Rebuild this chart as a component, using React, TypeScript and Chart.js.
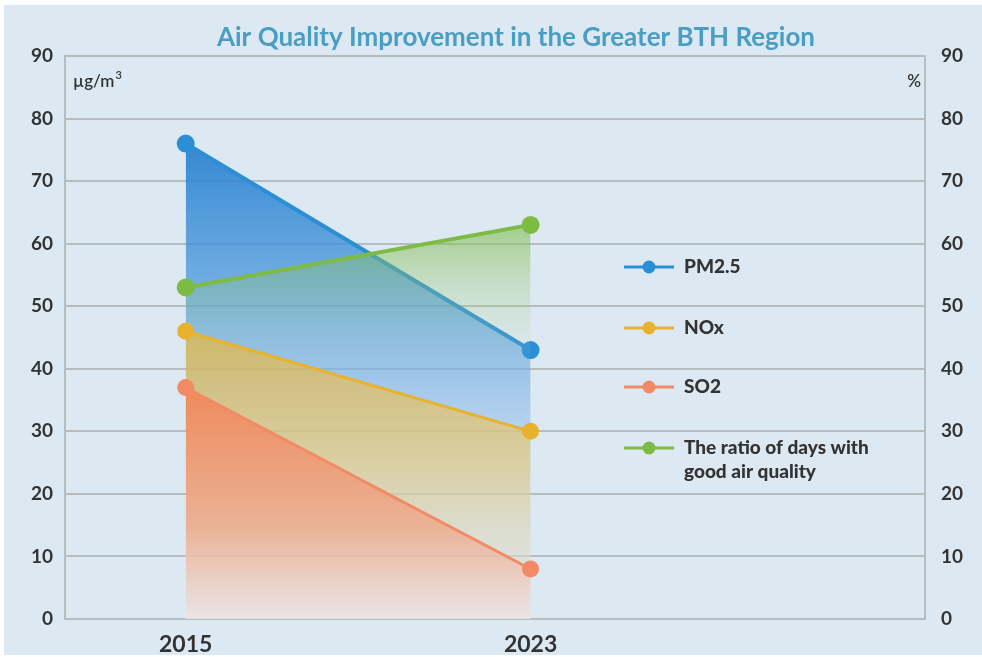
import React, { useEffect, useRef } from "react";
import { Chart, registerables } from "chart.js";

Chart.register(...registerables);

const years = [2015, 2023];
const pm25 = [76, 43];
const nox = [46, 30];
const so2 = [37, 8];
const goodDays = [53, 63];
const yTicks = [0, 10, 20, 30, 40, 50, 60, 70, 80, 90];
const seriesNames = ["PM2.5", "NOx", "SO2", "The ratio of days with\ngood air quality"];
const titleText = "Air Quality Improvement in the Greater BTH Region";

const C_BLUE = "#2b8fd6";
const C_GOLD = "#e9b22e";
const C_ORANGE = "#f28a66";
const C_GREEN = "#7dbb45";
const FONT = "Lato, 'Open Sans', sans-serif";

function grad(stops: [number, string][], vTop: number) {
  return (ctx: any) => {
    const chart = ctx.chart;
    const area = chart.chartArea;
    const ys = chart.scales.y;
    if (!area || !ys) return stops[0][1];
    const top = ys.getPixelForValue(vTop);
    const bottom = ys.getPixelForValue(0);
    const g = chart.ctx.createLinearGradient(0, top, 0, bottom);
    stops.forEach(([o, c]) => g.addColorStop(o, c));
    return g;
  };
}

const bgPlugin = {
  id: "bgPlugin",
  beforeDraw(chart: any) {
    const c = chart.ctx;
    c.save();
    c.fillStyle = "#ffffff";
    c.fillRect(0, 0, chart.width, chart.height);
    c.fillStyle = "#dde9f2";
    c.fillRect(4, 5, chart.width - 4, chart.height - 7);
    c.restore();
  },
};

const decoPlugin = {
  id: "decoPlugin",
  afterDraw(chart: any) {
    const c = chart.ctx;
    const area = chart.chartArea;
    c.save();
    // title
    c.fillStyle = "#4a9dc3";
    c.font = `bold 26px ${FONT}`;
    c.textAlign = "center";
    c.textBaseline = "middle";
    c.fillText(titleText, 516, 38, 598);
    // units
    c.fillStyle = "#333333";
    c.font = `600 17px ${FONT}`;
    c.textAlign = "left";
    c.fillText("\u00b5g/m", area.left + 8, 82);
    const w = c.measureText("\u00b5g/m").width;
    c.font = `600 11px ${FONT}`;
    c.fillText("3", area.left + 8 + w + 1, 75);
    c.font = `600 17px ${FONT}`;
    c.textAlign = "right";
    c.fillText("%", area.right - 4, 82);
    // legend
    const colors = [C_BLUE, C_GOLD, C_ORANGE, C_GREEN];
    const ly = [267, 328, 387, 448];
    seriesNames.forEach((name, i) => {
      const y = ly[i];
      c.strokeStyle = colors[i];
      c.lineWidth = 3;
      c.beginPath();
      c.moveTo(624, y);
      c.lineTo(674, y);
      c.stroke();
      c.fillStyle = colors[i];
      c.beginPath();
      c.arc(649, y, 6.5, 0, Math.PI * 2);
      c.fill();
      c.fillStyle = "#333333";
      c.font = `900 19px ${FONT}`;
      c.textAlign = "left";
      c.textBaseline = "middle";
      name.split("\n").forEach((line, j) => c.fillText(line, 684, y + j * 24));
    });
    c.restore();
  },
};

export default function App() {
  const ref = useRef<HTMLCanvasElement>(null);
  useEffect(() => {
    if (!ref.current) return;
    const mk = (vals: number[]) => years.map((x, i) => ({ x, y: vals[i] }));
    const chart = new Chart(ref.current, {
      type: "line",
      data: {
        datasets: [
          {
            label: seriesNames[0],
            data: mk(pm25),
            borderColor: C_BLUE,
            pointBackgroundColor: C_BLUE,
            pointBorderColor: C_BLUE,
            borderWidth: 4,
            pointRadius: 7,
            fill: "origin",
            order: 4,
            backgroundColor: grad(
              [
                [0, "rgba(38,128,208,0.92)"],
                [0.35, "rgba(80,155,222,0.7)"],
                [0.6, "rgba(150,192,235,0.55)"],
                [1, "rgba(210,225,240,0.2)"],
              ],
              pm25[0]
            ),
          },
          {
            label: seriesNames[1],
            data: mk(nox),
            borderColor: C_GOLD,
            pointBackgroundColor: C_GOLD,
            pointBorderColor: C_GOLD,
            borderWidth: 3,
            pointRadius: 7,
            fill: "origin",
            order: 2,
            backgroundColor: grad(
              [
                [0, "rgba(232,182,60,0.72)"],
                [0.45, "rgba(236,200,110,0.6)"],
                [0.8, "rgba(238,222,180,0.35)"],
                [1, "rgba(240,232,215,0.1)"],
              ],
              nox[0]
            ),
          },
          {
            label: seriesNames[2],
            data: mk(so2),
            borderColor: C_ORANGE,
            pointBackgroundColor: C_ORANGE,
            pointBorderColor: C_ORANGE,
            borderWidth: 3,
            pointRadius: 7,
            fill: "origin",
            order: 1,
            backgroundColor: grad(
              [
                [0, "rgba(240,135,90,0.95)"],
                [0.6, "rgba(238,170,140,0.85)"],
                [1, "rgba(236,228,228,0.8)"],
              ],
              so2[0]
            ),
          },
          {
            label: seriesNames[3],
            data: mk(goodDays),
            borderColor: C_GREEN,
            pointBackgroundColor: C_GREEN,
            pointBorderColor: C_GREEN,
            borderWidth: 4,
            pointRadius: 7,
            fill: "origin",
            order: 3,
            backgroundColor: grad(
              [
                [0, "rgba(125,185,70,0.6)"],
                [0.16, "rgba(150,198,110,0.3)"],
                [0.38, "rgba(200,220,190,0.0)"],
                [1, "rgba(220,230,220,0.0)"],
              ],
              goodDays[1]
            ),
          },
        ],
      },
      options: {
        responsive: false,
        animation: false,
        layout: { padding: { top: 56, left: 0, right: 0, bottom: 0 } },
        plugins: {
          legend: { display: false },
          title: { display: false },
          tooltip: { enabled: false },
        },
        scales: {
          x: {
            type: "linear",
            min: 2012.2,
            max: 2032.15,
            afterBuildTicks: (axis: any) => {
              axis.ticks = years.map((v) => ({ value: v }));
            },
            afterFit: (axis: any) => {
              axis.height = 38;
            },
            grid: { display: false },
            border: { display: false },
            ticks: {
              color: "#333333",
              font: { family: FONT, size: 23, weight: "bold" },
              padding: 4,
              callback: (v: any) => String(v),
            },
          },
          y: {
            position: "left",
            min: 0,
            max: 90,
            afterBuildTicks: (axis: any) => {
              axis.ticks = yTicks.map((v) => ({ value: v }));
            },
            afterFit: (axis: any) => {
              axis.width = 65;
            },
            grid: { color: "#b7bcbf", lineWidth: 2, drawTicks: false },
            border: { display: true, color: "#b7bcbf", width: 2 },
            ticks: {
              color: "#333333",
              font: { family: FONT, size: 19, weight: "bold" },
              padding: 12,
            },
          },
          y1: {
            position: "right",
            min: 0,
            max: 90,
            afterBuildTicks: (axis: any) => {
              axis.ticks = yTicks.map((v) => ({ value: v }));
            },
            afterFit: (axis: any) => {
              axis.width = 57;
            },
            grid: { display: false, drawTicks: false },
            border: { display: true, color: "#b7bcbf", width: 2 },
            ticks: {
              color: "#333333",
              font: { family: FONT, size: 19, weight: "bold" },
              padding: 16,
            },
          },
        },
      },
      plugins: [bgPlugin, decoPlugin],
    } as any);
    return () => chart.destroy();
  }, []);
  return (
    <div style={{ position: "fixed", left: 0, top: 0, width: 982, height: 657 }}>
      <canvas ref={ref} width={982} height={657} style={{ display: "block" }} />
    </div>
  );
}
